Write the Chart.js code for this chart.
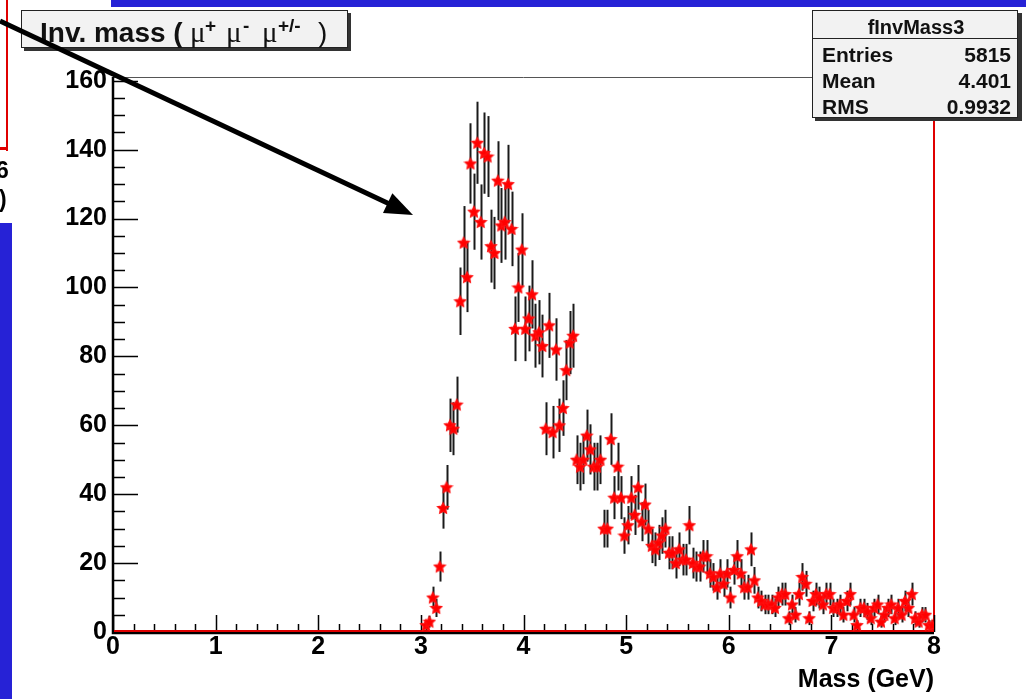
<!DOCTYPE html>
<html>
<head>
<meta charset="utf-8">
<title>fInvMass3</title>
<script src="https://cdn.jsdelivr.net/npm/chart.js@4/dist/chart.umd.min.js"></script>
<style>
  html, body { margin: 0; padding: 0; background: #fff; }
  #myChart { display: block; }
</style>
</head>
<body>
<canvas id="myChart" width="1026" height="699"></canvas>
<script>
	// histogram bins : 1/30 GeV wide, first bin starts at 3.0 GeV
	const binStart = 3.0;
	const binWidth = 1 / 30;

	// bin contents (3.0 .. 8.0 GeV)
	const counts = [
		0,
		2, 3, 10, 7, 19, 36, 42, 60, 59, 66,
		96, 113, 103, 136, 122, 142, 119, 139, 138, 112,
		110, 131, 118, 119, 130, 117, 88, 100, 111, 88,
		91, 98, 86, 87, 83, 59, 89, 58, 82, 60,
		65, 76, 84, 86, 50, 48, 50, 57, 53, 48,
		48, 50, 30, 30, 56, 39, 48, 39, 28, 31,
		39, 34, 42, 32, 37, 30, 25, 24, 26, 28,
		30, 23, 23, 20, 24, 21, 21, 31, 20, 19,
		19, 22, 22, 17, 16, 13, 17, 14, 17, 10,
		18, 22, 17, 13, 13, 24, 15, 10, 9, 8,
		8, 8, 7, 10, 11, 11, 4, 8, 5, 11,
		16, 14, 4, 9, 11, 10, 8, 11, 11, 7,
		7, 8, 5, 9, 11, 5, 2, 7, 7, 6,
		4, 7, 8, 3, 5, 7, 8, 4, 7, 5,
		9, 7, 11, 4, 3, 5, 5, 2, 2
	];

	// axis ticks
	const xTicks = [0, 1, 2, 3, 4, 5, 6, 7, 8];
	const yTicks = [0, 20, 40, 60, 80, 100, 120, 140, 160];

	// stats box
	const statsTitle = 'fInvMass3';
	const statsNames = ['Entries', 'Mean', 'RMS'];
	const statsValues = ['5815', '4.401', '0.9932'];

	const FONT = '"Liberation Sans", Arial, Helvetica, sans-serif';
	const SERIF = '"Liberation Serif", "Times New Roman", serif';

	// points (empty bins are not drawn)
	let points = [];
	for (let i = 0; i < counts.length; i++) {
		if (counts[i] > 0) {
			points.push({ x: binStart + (i + 0.5) * binWidth, y: counts[i] });
		}
	}

	// red full star marker
	function makeStar(r) {
		const c = document.createElement('canvas');
		const s = Math.ceil(r * 2 + 2);
		c.width = s; c.height = s;
		const g = c.getContext('2d');
		g.beginPath();
		for (let k = 0; k < 10; k++) {
			const rr = (k % 2 === 0) ? r : r * 0.5;
			const a = -Math.PI / 2 + k * Math.PI / 5;
			const px = s / 2 + rr * Math.cos(a);
			const py = s / 2 + 0.5 + rr * Math.sin(a);
			if (k === 0) g.moveTo(px, py); else g.lineTo(px, py);
		}
		g.closePath();
		g.fillStyle = '#ff0000';
		g.fill();
		g.strokeStyle = '#ff1010';
		g.lineWidth = 1.2;
		g.stroke();
		return c;
	}
	const starImg = makeStar(5.8);

	// vertical error bars, sqrt(N)
	const errorBars = {
		id: 'errorBars',
		beforeDatasetsDraw(chart) {
			const ctx = chart.ctx;
			const ys = chart.scales.y;
			const meta = chart.getDatasetMeta(0);
			ctx.save();
			ctx.strokeStyle = '#1a1a1a';
			ctx.lineWidth = 2;
			meta.data.forEach((el, i) => {
				const v = points[i].y;
				const e = Math.sqrt(v);
				ctx.beginPath();
				ctx.moveTo(Math.round(el.x) + 0.5, ys.getPixelForValue(Math.max(v - e, 0)));
				ctx.lineTo(Math.round(el.x) + 0.5, ys.getPixelForValue(v + e));
				ctx.stroke();
			});
			ctx.restore();
		}
	};

	// frame, inner ticks, title box, stats box, slide decorations
	const rootFrame = {
		id: 'rootFrame',
		beforeDatasetsDraw(chart) {
			const ctx = chart.ctx;
			const a = chart.chartArea;
			const xs = chart.scales.x;
			const ys = chart.scales.y;
			ctx.save();

			// top frame line
			ctx.strokeStyle = '#555';
			ctx.lineWidth = 1;
			ctx.beginPath();
			ctx.moveTo(a.left, a.top - 0.5);
			ctx.lineTo(a.right, a.top - 0.5);
			ctx.stroke();

			// right edge (red)
			ctx.strokeStyle = '#e00000';
			ctx.lineWidth = 2;
			ctx.beginPath();
			ctx.moveTo(a.right, a.top);
			ctx.lineTo(a.right, a.bottom);
			ctx.stroke();

			// axes
			ctx.strokeStyle = '#000';
			ctx.lineWidth = 2.5;
			ctx.beginPath();
			ctx.moveTo(a.left, a.top - 1);
			ctx.lineTo(a.left, a.bottom + 1);
			ctx.lineTo(a.right, a.bottom + 1);
			ctx.stroke();

			// y ticks (inside)
			ctx.lineWidth = 1.5;
			ctx.beginPath();
			for (let i = 0; i < yTicks.length; i++) {
				const py = Math.round(ys.getPixelForValue(yTicks[i])) + 0.5;
				ctx.moveTo(a.left, py); ctx.lineTo(a.left + 25, py);
				if (i < yTicks.length - 1) {
					const step = (yTicks[i + 1] - yTicks[i]) / 4;
					for (let m = 1; m < 4; m++) {
						const pm = Math.round(ys.getPixelForValue(yTicks[i] + m * step)) + 0.5;
						ctx.moveTo(a.left, pm); ctx.lineTo(a.left + 12, pm);
					}
				}
			}
			// x ticks (inside)
			for (let i = 0; i < xTicks.length; i++) {
				const px = Math.round(xs.getPixelForValue(xTicks[i])) + 0.5;
				ctx.moveTo(px, a.bottom); ctx.lineTo(px, a.bottom - 17);
				if (i < xTicks.length - 1) {
					const step = (xTicks[i + 1] - xTicks[i]) / 5;
					for (let m = 1; m < 5; m++) {
						const pm = Math.round(xs.getPixelForValue(xTicks[i] + m * step)) + 0.5;
						ctx.moveTo(pm, a.bottom); ctx.lineTo(pm, a.bottom - 8);
					}
				}
			}
			ctx.stroke();

			// red histogram baseline
			ctx.strokeStyle = '#e00000';
			ctx.lineWidth = 2;
			ctx.beginPath();
			ctx.moveTo(a.left + 1, a.bottom - 1);
			ctx.lineTo(a.right, a.bottom - 1);
			ctx.stroke();
			ctx.restore();
		},
		afterDraw(chart) {
			const ctx = chart.ctx;
			ctx.save();

			// slide decorations
			ctx.fillStyle = '#2622d6';
			ctx.fillRect(111, 0, 915, 7);
			ctx.fillRect(0, 223, 12, 476);
			ctx.fillStyle = '#e00000';
			ctx.fillRect(6, 0, 2, 151);
			ctx.fillRect(0, 147, 8, 3);
			ctx.fillStyle = '#000';
			ctx.font = 'bold 23px ' + FONT;
			ctx.textAlign = 'left';
			ctx.textBaseline = 'alphabetic';
			ctx.fillText('6', -4, 178);
			ctx.fillText(')', -1, 207);

			// title box
			ctx.fillStyle = '#333';
			ctx.fillRect(24, 13, 327, 38);
			ctx.fillStyle = '#f2f2f2';
			ctx.fillRect(21, 10, 327, 38);
			ctx.strokeStyle = '#222';
			ctx.lineWidth = 1;
			ctx.strokeRect(21.5, 10.5, 326, 37);
			ctx.fillStyle = '#111';
			ctx.font = 'bold 28px ' + FONT;
			ctx.fillText('Inv. mass (', 40, 42);
			ctx.font = '29px ' + SERIF;
			ctx.fillText('\u03bc', 190, 42);
			ctx.fillText('\u03bc', 226, 42);
			ctx.fillText('\u03bc', 262, 42);
			ctx.font = 'bold 19px ' + FONT;
			ctx.fillText('+', 205, 32);
			ctx.fillText('-', 243, 32);
			ctx.fillText('+/-', 278, 32);
			ctx.font = '28px ' + FONT;
			ctx.fillText(')', 318, 42);

			// stats box
			ctx.fillStyle = '#333';
			ctx.fillRect(815, 13, 207, 108);
			ctx.fillStyle = '#f2f2f2';
			ctx.fillRect(812, 10, 206, 108);
			ctx.strokeStyle = '#222';
			ctx.strokeRect(812.5, 10.5, 205, 107);
			ctx.beginPath();
			ctx.moveTo(812, 38.5); ctx.lineTo(1018, 38.5);
			ctx.stroke();
			ctx.fillStyle = '#111';
			ctx.font = 'bold 20px ' + FONT;
			ctx.textAlign = 'center';
			ctx.fillText(statsTitle, 916, 34);
			ctx.font = 'bold 21px ' + FONT;
			for (let i = 0; i < statsNames.length; i++) {
				const by = 62 + i * 26;
				ctx.textAlign = 'left';
				ctx.fillText(statsNames[i], 822, by);
				ctx.textAlign = 'right';
				ctx.fillText(statsValues[i], 1011, by);
			}

			// arrow
			const x0 = 0, y0 = 21, x1 = 413, y1 = 215;
			const ang = Math.atan2(y1 - y0, x1 - x0);
			ctx.strokeStyle = '#000';
			ctx.fillStyle = '#000';
			ctx.lineWidth = 5;
			ctx.beginPath();
			ctx.moveTo(x0, y0);
			ctx.lineTo(x1 - 20 * Math.cos(ang), y1 - 20 * Math.sin(ang));
			ctx.stroke();
			ctx.beginPath();
			ctx.moveTo(x1, y1);
			ctx.lineTo(x1 - 28 * Math.cos(ang) + 11 * Math.sin(ang), y1 - 28 * Math.sin(ang) - 11 * Math.cos(ang));
			ctx.lineTo(x1 - 28 * Math.cos(ang) - 11 * Math.sin(ang), y1 - 28 * Math.sin(ang) + 11 * Math.cos(ang));
			ctx.closePath();
			ctx.fill();

			ctx.restore();
		}
	};

	const ctx = document.querySelector('#myChart');
	const massChart = new Chart(ctx, {
		type: 'scatter',
		data: {
			datasets: [
				{
					label: 'fInvMass3',
					data: points,
					pointStyle: starImg,
					pointRadius: 6,
					pointHoverRadius: 6,
					showLine: false
				}
			]
		},
		options: {
			responsive: false,
			animation: false,
			devicePixelRatio: 1,
			layout: { padding: { left: 0, right: 92, top: 78, bottom: 0 } },
			plugins: {
				legend: { display: false },
				tooltip: { enabled: false }
			},
			scales: {
				x: {
					type: 'linear',
					min: 0,
					max: 8,
					afterBuildTicks: (s) => { s.ticks = xTicks.map(v => ({ value: v })); },
					afterFit: (s) => { s.height = 67; },
					grid: { display: false, drawTicks: false },
					border: { display: false },
					ticks: {
						color: '#000',
						padding: 0,
						maxRotation: 0,
						autoSkip: false,
						font: { family: FONT, weight: 'bold', size: 25 }
					},
					title: {
						display: true,
						text: 'Mass (GeV)',
						align: 'end',
						color: '#000',
						padding: { top: 0, bottom: 4 },
						font: { family: FONT, weight: 'bold', size: 25 }
					}
				},
				y: {
					type: 'linear',
					min: 0,
					max: 160.8,
					afterBuildTicks: (s) => { s.ticks = yTicks.map(v => ({ value: v })); },
					afterFit: (s) => { s.width = 113; },
					grid: { display: false, drawTicks: false },
					border: { display: false },
					ticks: {
						color: '#000',
						padding: 6,
						autoSkip: false,
						font: { family: FONT, weight: 'bold', size: 25 }
					}
				}
			}
		},
		plugins: [rootFrame, errorBars]
	});
</script>
</body>
</html>
